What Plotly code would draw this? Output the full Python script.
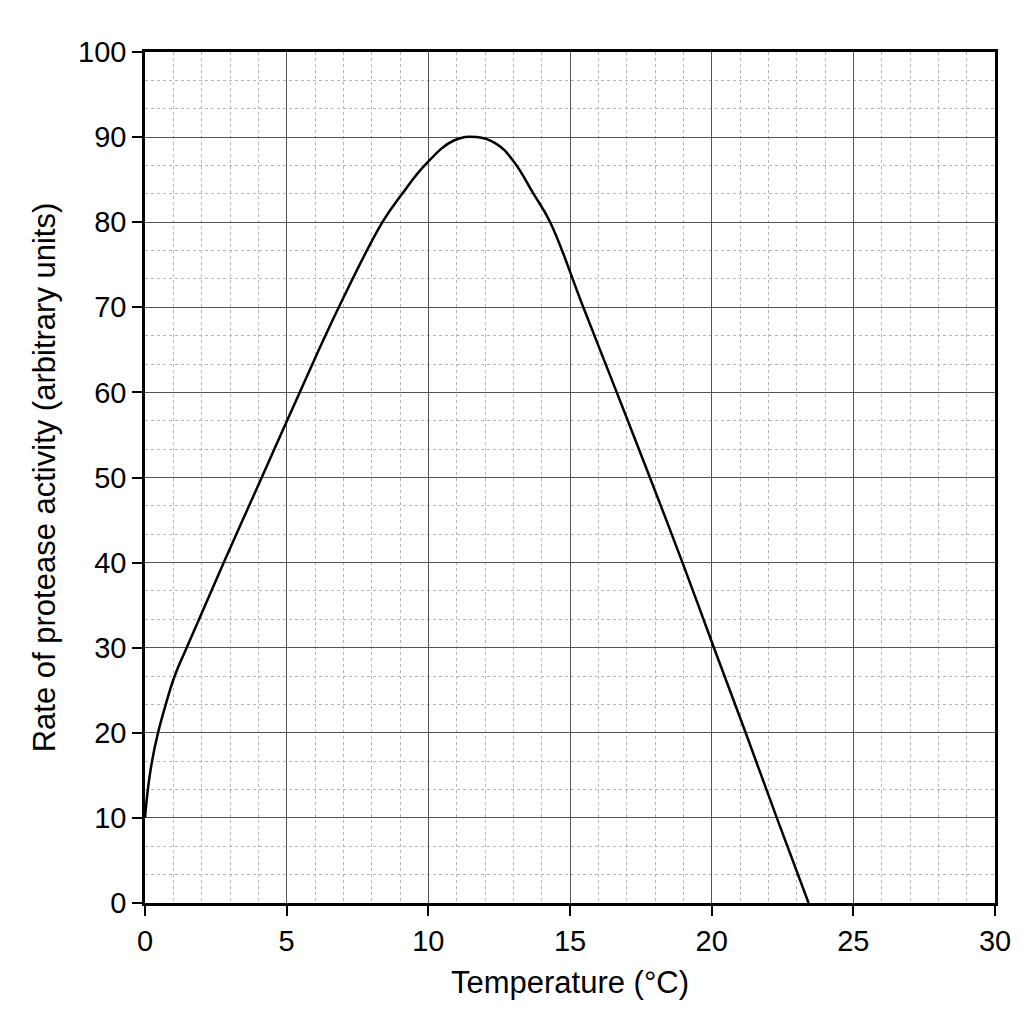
import plotly.graph_objects as go

# values
temperature = [0, 0.1, 0.25, 0.46, 0.73, 1.05, 1.47, 2.78, 4.12, 5.46, 6.84,
               8.38, 9.07, 9.88, 10.9, 11.7, 12.4, 13.0, 13.72, 14.3,
               15.47, 16.65, 17.82, 18.97, 20.08, 21.2, 22.3, 23.42]
activity = [10, 13.3, 16.7, 20, 23.3, 26.7, 30, 40, 50, 60, 70,
            80, 83.3, 86.7, 89.6, 90, 89.2, 87.2, 83.3, 80,
            70, 60, 50, 40, 30, 20, 10, 0]

x_ticks = [0, 5, 10, 15, 20, 25, 30]
y_ticks = [0, 10, 20, 30, 40, 50, 60, 70, 80, 90, 100]

fig = go.Figure()
fig.add_trace(go.Scatter(x=temperature, y=activity, mode="lines",
                         line=dict(color="black", width=2.5, shape="spline", smoothing=1.2),
                         showlegend=False, hoverinfo="skip"))

axis_common = dict(
    showline=True, linecolor="black", linewidth=2.5, mirror=True,
    ticks="outside", ticklen=10, tickwidth=2, tickcolor="black",
    showgrid=True, gridcolor="#555555", gridwidth=1,
    zeroline=False,
    tickfont=dict(family="Liberation Sans, Arial", size=29, color="black"),
    title_font=dict(family="Liberation Sans, Arial", size=31, color="black"),
)

fig.update_xaxes(range=[0, 30], tickvals=x_ticks, title_text="Temperature (°C)",
                 minor=dict(dtick=1, showgrid=True, gridcolor="#b5b5b5",
                            griddash="dot", gridwidth=1, ticks=""),
                 title_standoff=16, **axis_common)
fig.update_yaxes(range=[0, 100], tickvals=y_ticks,
                 title_text="Rate of protease activity (arbitrary units)",
                 minor=dict(tick0=0, dtick=10 / 3, showgrid=True, gridcolor="#b5b5b5",
                            griddash="dot", gridwidth=1, ticks=""),
                 title_standoff=14, **axis_common)

fig.update_layout(width=1024, height=1024,
                  margin=dict(l=137, r=37, t=44, b=129),
                  plot_bgcolor="white", paper_bgcolor="white")

fig.write_html("out.html")
